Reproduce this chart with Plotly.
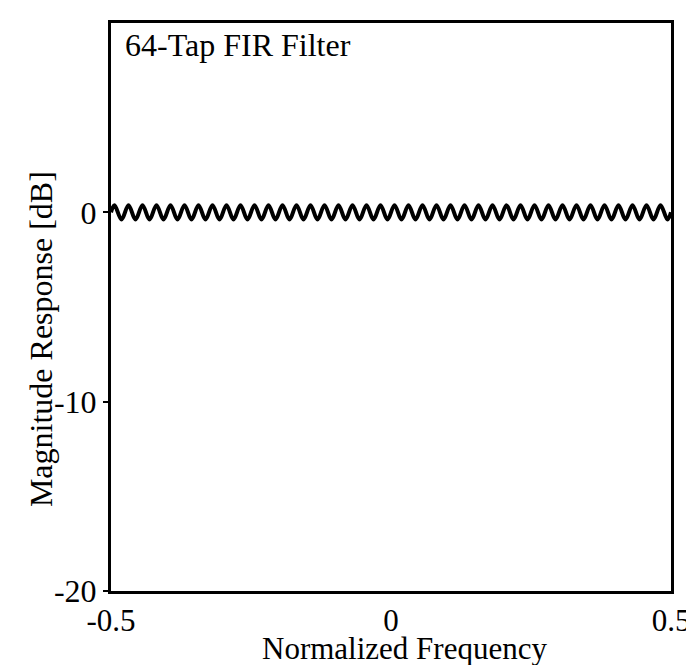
import plotly.graph_objects as go

# Normalized frequency of ripple extrema (plus band edges)
freq = [-0.5,
        -0.49375, -0.48125, -0.46875, -0.45625, -0.44375, -0.43125, -0.41875, -0.40625,
        -0.39375, -0.38125, -0.36875, -0.35625, -0.34375, -0.33125, -0.31875, -0.30625,
        -0.29375, -0.28125, -0.26875, -0.25625, -0.24375, -0.23125, -0.21875, -0.20625,
        -0.19375, -0.18125, -0.16875, -0.15625, -0.14375, -0.13125, -0.11875, -0.10625,
        -0.09375, -0.08125, -0.06875, -0.05625, -0.04375, -0.03125, -0.01875, -0.00625,
        0.00625, 0.01875, 0.03125, 0.04375, 0.05625, 0.06875, 0.08125, 0.09375,
        0.10625, 0.11875, 0.13125, 0.14375, 0.15625, 0.16875, 0.18125, 0.19375,
        0.20625, 0.21875, 0.23125, 0.24375, 0.25625, 0.26875, 0.28125, 0.29375,
        0.30625, 0.31875, 0.33125, 0.34375, 0.35625, 0.36875, 0.38125, 0.39375,
        0.40625, 0.41875, 0.43125, 0.44375, 0.45625, 0.46875, 0.48125, 0.49375,
        0.5]

# Magnitude response [dB] at those points
magnitude_db = [0.0,
                0.38, -0.38, 0.38, -0.38, 0.38, -0.38, 0.38, -0.38,
                0.38, -0.38, 0.38, -0.38, 0.38, -0.38, 0.38, -0.38,
                0.38, -0.38, 0.38, -0.38, 0.38, -0.38, 0.38, -0.38,
                0.38, -0.38, 0.38, -0.38, 0.38, -0.38, 0.38, -0.38,
                0.38, -0.38, 0.38, -0.38, 0.38, -0.38, 0.38, -0.38,
                0.38, -0.38, 0.38, -0.38, 0.38, -0.38, 0.38, -0.38,
                0.38, -0.38, 0.38, -0.38, 0.38, -0.38, 0.38, -0.38,
                0.38, -0.38, 0.38, -0.38, 0.38, -0.38, 0.38, -0.38,
                0.38, -0.38, 0.38, -0.38, 0.38, -0.38, 0.38, -0.38,
                0.38, -0.38, 0.38, -0.38, 0.38, -0.38, 0.38, -0.38,
                0.0]

x_ticks = [-0.5, 0, 0.5]
x_tick_labels = ["-0.5", "0", "0.5"]
y_ticks = [0, -10, -20]
y_tick_labels = ["0", "-10", "-20"]

title_text = "64-Tap FIR Filter"
x_title = "Normalized Frequency"
y_title = "Magnitude Response [dB]"

FONT = "Liberation Serif, Times New Roman, serif"

fig = go.Figure()
fig.add_trace(go.Scatter(
    x=freq, y=magnitude_db, mode="lines",
    line=dict(color="black", width=4, shape="spline", smoothing=1.0),
    hoverinfo="skip", showlegend=False,
))

fig.update_layout(
    width=694, height=665,
    margin=dict(l=103, r=21, t=13, b=82),
    paper_bgcolor="white", plot_bgcolor="white",
    font=dict(family=FONT, size=31, color="black"),
    showlegend=False,
)
fig.update_xaxes(
    range=[-0.5, 0.5], tickvals=x_ticks, ticktext=x_tick_labels,
    showgrid=False, zeroline=False, showline=True, linecolor="black",
    linewidth=3, mirror=True, ticks="", tickfont=dict(size=31, family=FONT),
)
fig.update_yaxes(
    range=[-20, 10], tickvals=y_ticks, ticktext=y_tick_labels,
    showgrid=False, zeroline=False, showline=True, linecolor="black",
    linewidth=3, mirror=True, ticks="outside", ticklen=5, tickwidth=2,
    tickcolor="black", tickfont=dict(size=32, family=FONT),
)

fig.add_annotation(text=title_text, xref="paper", yref="paper",
                   x=0.021, y=0.962, xanchor="left", yanchor="middle",
                   showarrow=False, font=dict(size=32, family=FONT))
fig.add_annotation(text=x_title, xref="paper", yref="paper",
                   x=0.5246, y=-0.1005, xanchor="center", yanchor="middle",
                   showarrow=False, font=dict(size=31, family=FONT))
fig.add_annotation(text=y_title, xref="paper", yref="paper",
                   x=-0.1246, y=0.4439, xanchor="center", yanchor="middle",
                   textangle=-90, showarrow=False, font=dict(size=32, family=FONT))

fig.write_html("out.html")
